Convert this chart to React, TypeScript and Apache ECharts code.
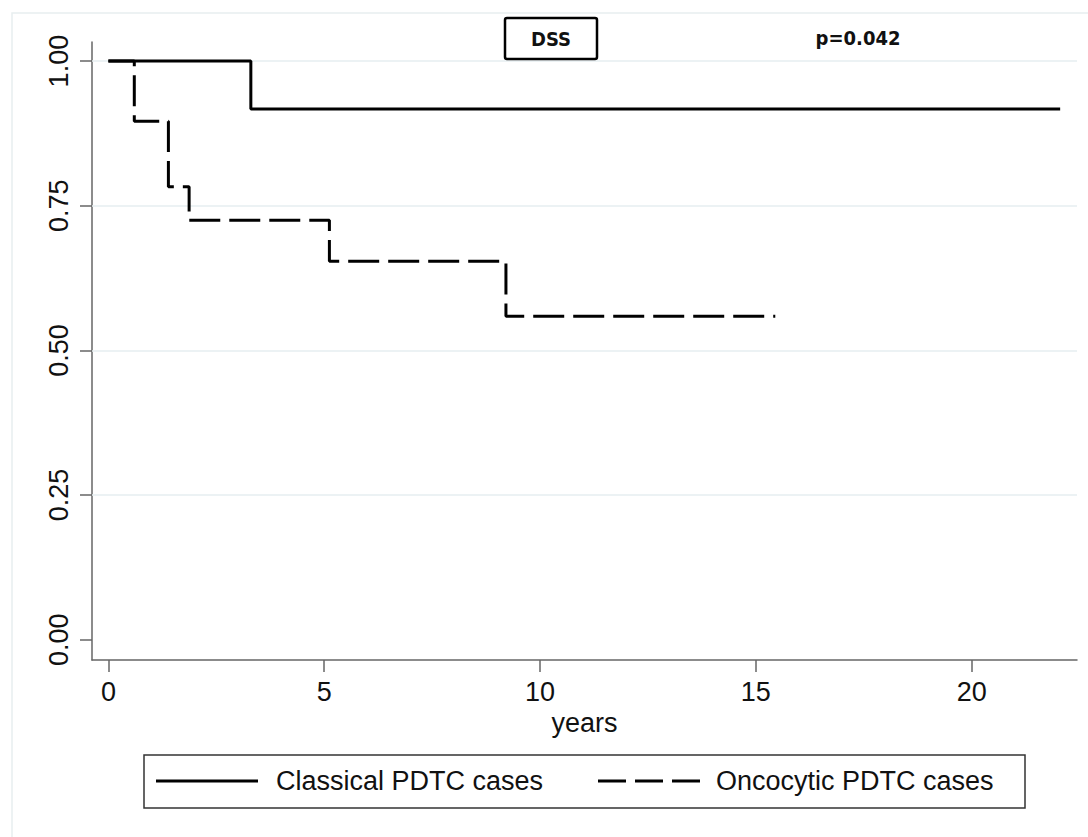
import React, { useEffect, useRef } from "react";
import * as echarts from "echarts";

const classicalTimes = [0, 3.3, 22.05];
const classicalSurv = [1, 0.917, 0.917];
const oncoTimes = [0, 0.6, 1.39, 1.87, 5.12, 9.21, 15.45];
const oncoSurv = [1, 0.896, 0.783, 0.725, 0.654, 0.559, 0.559];

const xTicks = [0, 5, 10, 15, 20];
const yTicks = [0, 0.25, 0.5, 0.75, 1];
const gridValues = [0.25, 0.5, 0.75, 1];

const seriesNames = ["Classical PDTC cases", "Oncocytic PDTC cases"];
const titleText = "DSS";
const pText = "p=0.042";
const xName = "years";

const FONT = "'Liberation Sans', Arial, sans-serif";
const BOLD = "'DejaVu Sans Condensed', 'DejaVu Sans', Verdana, sans-serif";

export default function App() {
  const ref = useRef<HTMLDivElement>(null);
  useEffect(() => {
    if (!ref.current) return;
    const chart = echarts.init(ref.current, null, { renderer: "svg" });
    const classical = classicalTimes.map((t, i) => [t, classicalSurv[i]]);
    const onco = oncoTimes.map((t, i) => [t, oncoSurv[i]]);
    chart.setOption({
      animation: false,
      backgroundColor: "#ffffff",
      grid: { left: 92, right: 11, top: 42, bottom: 177 },
      xAxis: {
        type: "value",
        min: -0.38,
        max: 22.44,
        name: xName,
        nameLocation: "middle",
        nameGap: 48,
        nameTextStyle: { fontFamily: FONT, fontSize: 27, color: "#111" },
        axisLine: { show: true, onZero: false, lineStyle: { color: "#666", width: 1.5 } },
        axisTick: {
          show: true,
          length: 12,
          lineStyle: { color: "#666", width: 1.5 },
          customValues: xTicks,
        },
        axisLabel: {
          fontFamily: FONT,
          fontSize: 27,
          color: "#111",
          margin: 18,
          customValues: xTicks,
        },
        splitLine: { show: false },
        splitArea: { show: false },
      },
      yAxis: {
        type: "value",
        min: -0.035,
        max: 1.033,
        axisLine: { show: true, onZero: false, lineStyle: { color: "#666", width: 1.5 } },
        axisTick: {
          show: true,
          length: 12,
          lineStyle: { color: "#666", width: 1.5 },
          customValues: yTicks,
        },
        axisLabel: {
          fontFamily: FONT,
          fontSize: 27,
          color: "#111",
          rotate: 90,
          margin: 20,
          customValues: yTicks,
          formatter: (v: number) => v.toFixed(2),
        },
        splitLine: { show: false },
        splitArea: { show: false },
      },
      series: [
        {
          name: seriesNames[0],
          type: "line",
          step: "end",
          data: classical,
          symbol: "none",
          lineStyle: { color: "#000", width: 3 },
          z: 3,
          markLine: {
            silent: true,
            symbol: ["none", "none"],
            label: { show: false },
            lineStyle: { color: "#e6eef1", width: 1.5, type: "solid" },
            data: gridValues.map((v) => ({ yAxis: v })),
            z: 1,
          },
        },
        {
          name: seriesNames[1],
          type: "line",
          step: "end",
          data: onco,
          symbol: "none",
          lineStyle: { color: "#000", width: 3, type: [31, 9] },
          z: 4,
        },
      ],
      graphic: [
        {
          type: "polyline",
          shape: { points: [[12, 837], [12, 13], [1088, 13]] },
          style: { fill: "none", stroke: "#e8eef0", lineWidth: 1.5 },
          z: -1,
          silent: true,
        },
        {
          type: "rect",
          shape: { x: 505, y: 18, width: 92, height: 41, r: 2 },
          style: { fill: "#fff", stroke: "#000", lineWidth: 2.5 },
          z: 10,
        },
        {
          type: "text",
          x: 551,
          y: 38.5,
          style: {
            text: titleText,
            font: `bold 20px ${BOLD}`,
            fill: "#111",
            align: "center",
            verticalAlign: "middle",
          },
          z: 11,
        },
        {
          type: "text",
          x: 858,
          y: 38,
          style: {
            text: pText,
            font: `bold 20px ${BOLD}`,
            fill: "#111",
            align: "center",
            verticalAlign: "middle",
          },
          z: 11,
        },
        {
          type: "rect",
          shape: { x: 144, y: 755, width: 881, height: 53 },
          style: { fill: "#fff", stroke: "#333", lineWidth: 1.5 },
          z: 10,
        },
        {
          type: "line",
          shape: { x1: 156, y1: 781, x2: 258, y2: 781 },
          style: { stroke: "#000", lineWidth: 3 },
          z: 11,
        },
        {
          type: "text",
          x: 276,
          y: 781,
          style: {
            text: seriesNames[0],
            font: `27px ${FONT}`,
            fill: "#111",
            align: "left",
            verticalAlign: "middle",
          },
          z: 11,
        },
        {
          type: "line",
          shape: { x1: 598, y1: 781, x2: 700, y2: 781 },
          style: { stroke: "#000", lineWidth: 3, lineDash: [28, 9] },
          z: 11,
        },
        {
          type: "text",
          x: 716,
          y: 781,
          style: {
            text: seriesNames[1],
            font: `27px ${FONT}`,
            fill: "#111",
            align: "left",
            verticalAlign: "middle",
          },
          z: 11,
        },
      ],
    });
    return () => chart.dispose();
  }, []);
  return (
    <div
      ref={ref}
      style={{ position: "fixed", left: 0, top: 0, width: 1088, height: 837 }}
    />
  );
}
